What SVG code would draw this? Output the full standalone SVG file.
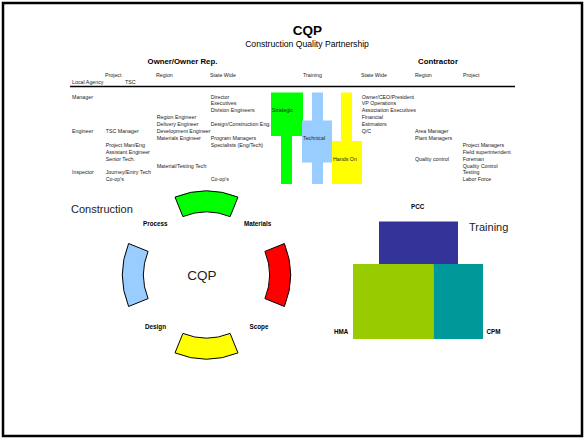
<svg xmlns="http://www.w3.org/2000/svg" width="587" height="439" viewBox="0 0 587 439">
<style>
text{font-family:"Liberation Sans",Arial,sans-serif;fill:#222}
.s{font-size:5.3px}
.b{font-weight:bold;font-size:6.3px;fill:#000}
.h{font-weight:bold;font-size:7.8px;fill:#000}
.seg{stroke:#000;stroke-width:1}
</style>
<rect x="3" y="3" width="579" height="433" fill="#fff" stroke="#000" stroke-width="2.5"/>
<g id="title">
<text x="307.5" y="35" text-anchor="middle" style="font-weight:bold;font-size:13.5px;fill:#000">CQP</text>
<text x="307" y="47" text-anchor="middle" style="font-size:8.6px;fill:#000">Construction Quality Partnership</text>
<text class="h" x="182.5" y="64" text-anchor="middle">Owner/Owner Rep.</text>
<text class="h" x="438" y="64" text-anchor="middle">Contractor</text>
</g>
<g id="headers" class="s">
<text class="s" x="105" y="77">Project</text>
<text class="s" x="156" y="77">Region</text>
<text class="s" x="210" y="77">State Wide</text>
<text class="s" x="303" y="77">Training</text>
<text class="s" x="361" y="77">State Wide</text>
<text class="s" x="415" y="77">Region</text>
<text class="s" x="463" y="77">Project</text>
<text class="s" x="72" y="84">Local Agency</text>
<text class="s" x="125" y="84">TSC</text>
</g>
<line x1="70" y1="86.5" x2="515" y2="86.5" stroke="#000" stroke-width="1.6"/>
<g id="training-bars">
<rect x="271" y="92.5" width="32" height="43.5" fill="#00FF00"/>
<rect x="281" y="136" width="11" height="48" fill="#00FF00"/>
<rect x="312" y="92.5" width="11" height="91.5" fill="#99CCFF"/>
<rect x="302" y="120.5" width="30" height="42" fill="#99CCFF"/>
<rect x="341" y="92.5" width="11" height="91.5" fill="#FFFF00"/>
<rect x="332" y="141" width="30" height="43" fill="#FFFF00"/>
<text class="s" x="272" y="112">Strategic</text>
<text class="s" x="303" y="139.7">Technical</text>
<text class="s" x="333" y="160.8">Hands On</text>
</g>
<g id="owner-roles">
<text class="s" x="72" y="98.5">Manager</text>
<text class="s" x="72" y="133">Engineer</text>
<text class="s" x="72" y="174.4">Inspector</text>
<text class="s" x="105.7" y="133">TSC Manager</text>
<text class="s" x="105.7" y="146.8">Project Man/Eng</text>
<text class="s" x="105.7" y="153.7">Assistant Engineer</text>
<text class="s" x="105.7" y="160.6">Senior Tech.</text>
<text class="s" x="105.7" y="174.4">Journey/Entry Tech</text>
<text class="s" x="105.7" y="181.3">Co-op's</text>
<text class="s" x="156.7" y="119.2">Region Engineer</text>
<text class="s" x="156.7" y="126.1">Delivery Engineer</text>
<text class="s" x="156.7" y="133">Development Engineer</text>
<text class="s" x="156.7" y="139.9">Materials Engineer</text>
<text class="s" x="156.7" y="167.5">Material/Testing Tech</text>
<text class="s" x="210.7" y="98.5">Director</text>
<text class="s" x="210.7" y="105.4">Executives</text>
<text class="s" x="210.7" y="112.3">Division Engineers</text>
<text class="s" x="210.7" y="126.1">Design/Construction Eng.</text>
<text class="s" x="210.7" y="139.9">Program Managers</text>
<text class="s" x="210.7" y="146.8">Specialists (Eng/Tech)</text>
<text class="s" x="210.7" y="181.3">Co-op's</text>
</g>
<g id="contractor-roles">
<text class="s" x="361.7" y="98.5">Owner/CEO/President</text>
<text class="s" x="361.7" y="105.4">VP Operations</text>
<text class="s" x="361.7" y="112.3">Association Executives</text>
<text class="s" x="361.7" y="119.2">Financial</text>
<text class="s" x="361.7" y="126.1">Estimators</text>
<text class="s" x="361.7" y="133">Q/C</text>
<text class="s" x="415" y="133">Area Manager</text>
<text class="s" x="415" y="139.9">Plant Managers</text>
<text class="s" x="415" y="160.6">Quality control</text>
<text class="s" x="462.7" y="146.8">Project Managers</text>
<text class="s" x="462.7" y="153.7">Field superintendent</text>
<text class="s" x="462.7" y="160.6">Foreman</text>
<text class="s" x="462.7" y="167.5">Quality Control</text>
<text class="s" x="462.7" y="174.4">Testing</text>
<text class="s" x="462.7" y="181.3">Labor Force</text>
</g>
<g id="construction-ring">
<text x="71" y="213" style="font-size:11px;fill:#222">Construction</text>
<g id="seg-process">
<path class="seg" fill="#00FF00" d="M175.03,197.12 A84,84 0 0 1 237.97,197.12 L230.1,216.59 A63,63 0 0 0 182.9,216.59 Z"/>
</g>
<g id="seg-materials">
<path class="seg" fill="#FF0000" d="M284.38,243.53 A84,84 0 0 1 284.38,306.47 L264.91,298.6 A63,63 0 0 0 264.91,251.4 Z"/>
</g>
<g id="seg-scope">
<path class="seg" fill="#FFFF00" d="M237.97,352.88 A84,84 0 0 1 175.03,352.88 L182.9,333.41 A63,63 0 0 0 230.1,333.41 Z"/>
</g>
<g id="seg-design">
<path class="seg" fill="#99CCFF" d="M128.62,306.47 A84,84 0 0 1 128.62,243.53 L148.09,251.4 A63,63 0 0 0 148.09,298.6 Z"/>
</g>
<text x="202" y="279.5" text-anchor="middle" style="font-size:13.5px;fill:#222">CQP</text>
<text class="b" x="143" y="225.5">Process</text>
<text class="b" x="244" y="225.5">Materials</text>
<text class="b" x="145" y="329">Design</text>
<text class="b" x="249.5" y="329">Scope</text>
</g>
<g id="training-blocks">
<g id="pcc"><rect x="379" y="221.5" width="79" height="43" fill="#333399"/></g>
<g id="hma"><rect x="353" y="264" width="80.5" height="75" fill="#99CC00"/></g>
<g id="cpm"><rect x="433.5" y="264" width="49.5" height="75" fill="#009999"/></g>
<text class="b" x="411" y="209">PCC</text>
<text class="b" x="334" y="334">HMA</text>
<text class="b" x="486.5" y="334">CPM</text>
<text x="469" y="230.5" style="font-size:11px;fill:#222">Training</text>
</g>
</svg>
